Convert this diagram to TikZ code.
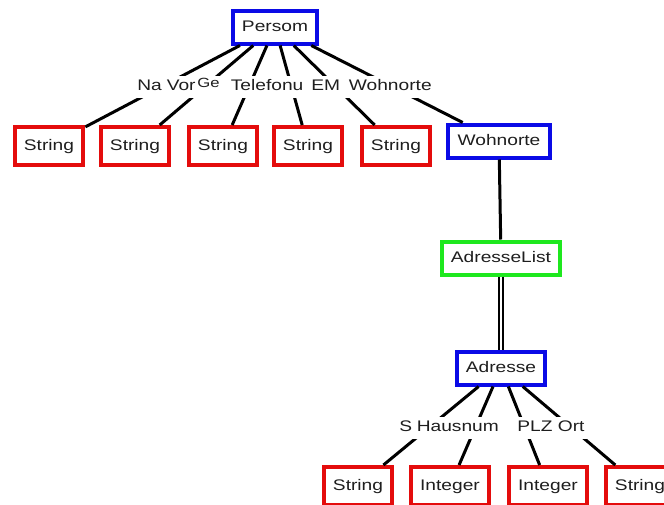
\documentclass[tikz,border=0pt]{standalone}
\usepackage{fontspec}
\setmainfont{Liberation Sans}[FakeStretch=1.25]
\usetikzlibrary{positioning}
\definecolor{boxblue}{RGB}{10,10,230}
\definecolor{boxred}{RGB}{228,12,12}
\definecolor{boxgreen}{RGB}{30,232,30}
\definecolor{txtgray}{RGB}{30,30,30}

\begin{document}
\begin{tikzpicture}[x=0.75pt,y=-0.75pt,
    font=\fontsize{11.5}{13}\selectfont, text=txtgray,
    box/.style={draw, fill=white, line width=3pt, inner xsep=7pt,
      minimum height=24.75pt, text height=8.5pt, text depth=2.5pt},
    classbox/.style={box, draw=boxblue},
    listbox/.style={box, draw=boxgreen},
    basebox/.style={box, draw=boxred, minimum height=28.5pt},
    conn/.style={line width=2.25pt, black},
    lbl/.style={fill=white, inner xsep=0pt, inner ysep=0pt, align=left,
      minimum height=16.5pt, text height=8pt, text depth=2.5pt},
    lchain/.style={lbl, right=-1.5pt of #1}] 
                \useasboundingbox (0,0) rectangle (664,504);
                \node[classbox](persom) at (275,27) {Persom};
                \node[basebox](tname) at (49,146) {String};
                \node[basebox](tvor) at (135,146) {String};
                \node[basebox](tge) at (223,146) {String};
                \node[basebox](ttel) at (308,146) {String};
                \node[basebox](tmail) at (396,146) {String};
                \node[classbox](wohnorte) at (499,141) {Wohnorte};
                \node[listbox](adrlist) at (501,258) {AdresseList};
                \node[classbox](adresse) at (501,368) {Adresse};
                \node[basebox](tstr) at (358,486) {String};
                \node[basebox](thnr) at (450,486) {Integer};
                \node[basebox](tplz) at (548,486) {Integer};
                \node[basebox](tort) at (640,486) {String};
                \path[conn]
                (persom) edge (tname)
                (persom) edge (tvor)
                (persom) edge (tge)
                (persom) edge (ttel)
                (persom) edge (tmail)
                (persom) edge (wohnorte)
                (wohnorte) edge (adrlist)
                (adresse) edge (tstr)
                (adresse) edge (thnr)
                (adresse) edge (tplz)
                (adresse) edge (tort);
                \draw[double, double distance=1.5pt, line width=1.5pt] (adrlist) -- (adresse);
                % labels cover each other like in the tool
                \node[lbl, anchor=west, text width=23.25pt](lname) at (137,87) {Na};
                \node[lchain=lname, text width=24pt](lvor) {Vor};
                \node[lchain=lvor, text width=26.25pt](lge) {\raisebox{2.5pt}{\fontsize{10}{10}\selectfont Ge}};
                \node[lchain=lge, text width=61.5pt](ltel) {Telefonu};
                \node[lchain=ltel, text width=29.25pt](lmail) {EM};
                \node[lchain=lmail, text width=67.5pt](lwohn) {Wohnorte};
                \node[lbl, anchor=west, text width=14.25pt](lstr) at (399,428) {S};
                \node[lchain=lstr, text width=76.5pt](lhnr) {Hausnum};
                \node[lchain=lhnr, text width=31.5pt](lplz) {PLZ};
                \node[lchain=lplz, text width=22.5pt](lort) {Ort};
            \end{tikzpicture}
\end{document}
